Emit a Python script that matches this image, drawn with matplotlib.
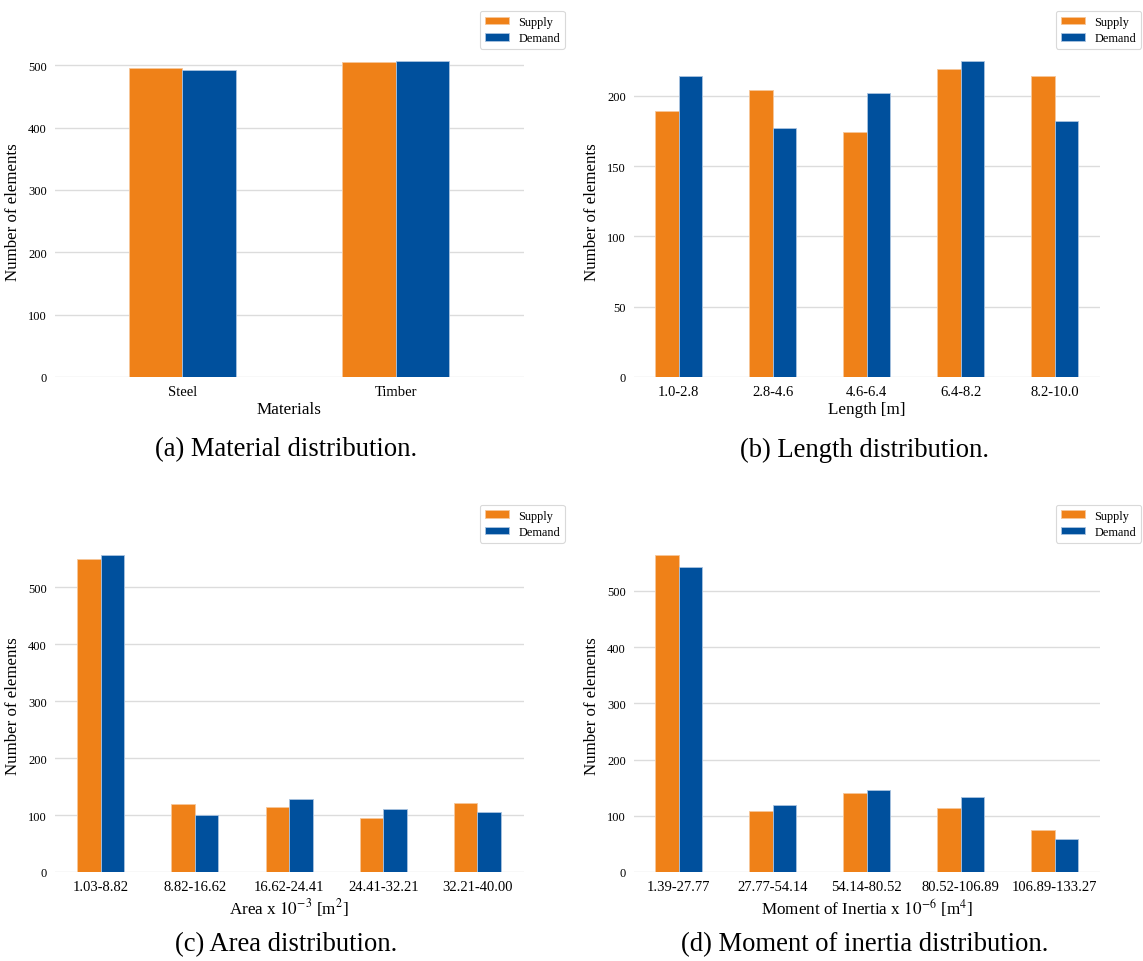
import matplotlib

matplotlib.use("Agg")
import matplotlib.pyplot as plt
import numpy as np

plt.rcParams["font.family"] = ["Liberation Serif", "DejaVu Serif"]
plt.rcParams["mathtext.fontset"] = "stix"

# Element counts per bin, supply vs demand
material_bins = ["Steel", "Timber"]
material_supply = [495, 505]
material_demand = [493, 507]

length_bins = ["1.0-2.8", "2.8-4.6", "4.6-6.4", "6.4-8.2", "8.2-10.0"]
length_supply = [189, 204, 174, 219, 214]
length_demand = [214, 177, 202, 225, 182]

area_bins = ["1.03-8.82", "8.82-16.62", "16.62-24.41", "24.41-32.21", "32.21-40.00"]
area_supply = [550, 119, 114, 95, 122]
area_demand = [557, 100, 128, 110, 105]

inertia_bins = ["1.39-27.77", "27.77-54.14", "54.14-80.52", "80.52-106.89", "106.89-133.27"]
inertia_supply = [564, 108, 140, 113, 75]
inertia_demand = [543, 119, 145, 134, 59]

SUPPLY_COLOR = "#ef8118"
DEMAND_COLOR = "#00509d"

W, H = 1143, 962
fig = plt.figure(figsize=(W / 100, H / 100), dpi=100)


def make_axes(left, top, right, bottom):
    return fig.add_axes([left / W, (H - bottom) / H, (right - left) / W, (bottom - top) / H])


def bar_panel(ax, labels, supply, demand, xlabel, xlim):
    x = np.arange(len(labels))
    w = 0.25
    ax.bar(x - w / 2, supply, w, color=SUPPLY_COLOR, edgecolor="#f6c79a",
           linewidth=0.6, label="Supply", zorder=3)
    ax.bar(x + w / 2, demand, w, color=DEMAND_COLOR, edgecolor="#a9c3e0",
           linewidth=0.6, label="Demand", zorder=3)
    ax.set_xticks(x)
    ax.set_xticklabels(labels, fontsize=10.5)
    ax.tick_params(axis="y", labelsize=9, length=0, pad=5.5)
    ax.tick_params(axis="x", length=0, pad=6)
    ax.set_xlim(*xlim)
    ax.yaxis.grid(True, color="#dcdcdc", linewidth=1.0, zorder=0)
    ax.xaxis.grid(False)
    for s in ax.spines.values():
        s.set_visible(False)
    ax.set_xlabel(xlabel, fontsize=12.3, labelpad=2)
    ax.set_ylabel("Number of elements", fontsize=12.2, labelpad=5)
    leg = ax.legend(loc="upper right", bbox_to_anchor=(1.088, 1.103), fontsize=8.8,
                    frameon=True, fancybox=True, handlelength=2.0, handleheight=0.6,
                    borderpad=0.4, labelspacing=0.35, handletextpad=0.75,
                    borderaxespad=0)
    leg.get_frame().set_edgecolor("#d0d0d0")
    leg.get_frame().set_linewidth(0.8)


ax_a = make_axes(54.5, 46, 523.6, 378)
bar_panel(ax_a, material_bins, material_supply, material_demand, "Materials", (-0.6, 1.6))
ax_a.set_yticks([0, 100, 200, 300, 400, 500])

ax_b = make_axes(633.6, 46, 1100, 378)
bar_panel(ax_b, length_bins, length_supply, length_demand, "Length [m]", (-0.48, 4.48))
ax_b.set_yticks([0, 50, 100, 150, 200])

ax_c = make_axes(54.5, 540, 523.6, 873)
bar_panel(ax_c, area_bins, area_supply, area_demand,
          r"Area x $10^{-3}$ [m$^{2}$]", (-0.49, 4.49))
ax_c.set_yticks([0, 100, 200, 300, 400, 500])

ax_d = make_axes(633.6, 540, 1100, 873)
bar_panel(ax_d, inertia_bins, inertia_supply, inertia_demand,
          r"Moment of Inertia x $10^{-6}$ [m$^{4}$]", (-0.48, 4.48))
ax_d.set_yticks([0, 100, 200, 300, 400, 500])

captions = [
    (286, 450, "(a) Material distribution."),
    (865, 450, "(b) Length distribution."),
    (286, 945, "(c) Area distribution."),
    (865, 945, "(d) Moment of inertia distribution."),
]
for cx, cy, text in captions:
    fig.text(cx / W, 1 - cy / H, text, ha="center", va="center", fontsize=19.2)

fig.savefig("out.png", dpi=100)
